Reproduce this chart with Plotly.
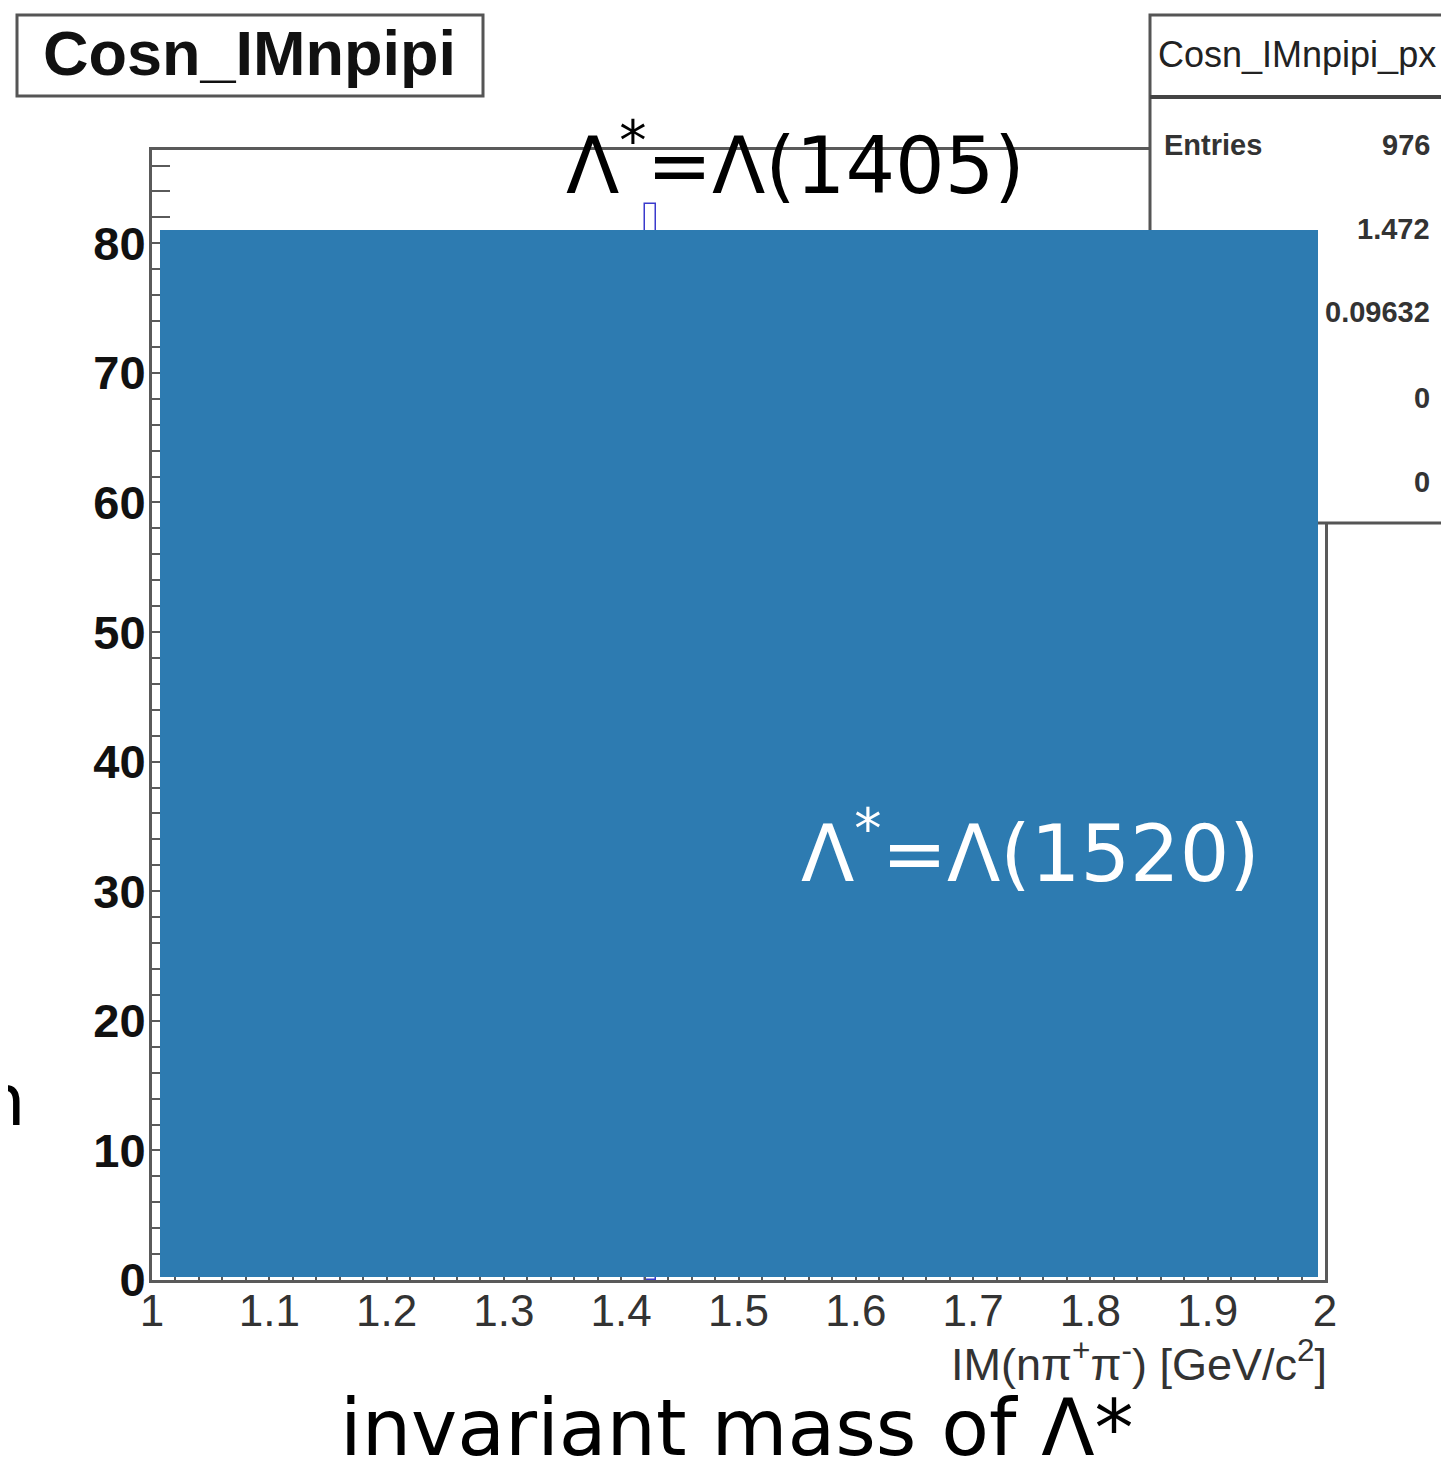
import plotly.graph_objects as go

# ---------------- data ----------------
bin_centers = [1.425]          # visible histogram bin (rest hidden behind overlay)
bin_counts = [83]
bin_width = 0.01
x_range = [1.0, 2.0]
y_range = [0, 87.2]
x_tick_vals = [1.0, 1.1, 1.2, 1.3, 1.4, 1.5, 1.6, 1.7, 1.8, 1.9, 2.0]
x_tick_text = ["1", "1.1", "1.2", "1.3", "1.4", "1.5", "1.6", "1.7", "1.8", "1.9", "2"]
y_tick_vals = [0, 10, 20, 30, 40, 50, 60, 70, 80]
y_tick_text = ["0", "10", "20", "30", "40", "50", "60", "70", "80"]
stats_title = "Cosn_IMnpipi_px"
stats_visible_labels = ["Entries"]
stats_values = ["976", "1.472", "0.09632", "0", "0"]
hist_title = "Cosn_IMnpipi"
x_title = "IM(nπ<sup>+</sup>π<sup>-</sup>) [GeV/c<sup>2</sup>]"

# ---------------- geometry (page pixels) ----------------
OFF = 8                         # page body margin
W, H = 1449 - OFF, 1473 - OFF
L, R, T, B = 152, 1325, 150, 1280
PW, PH = R - L, B - T


def px(x):
    return (x - L) / PW


def py(y):
    return (B - y) / PH


fig = go.Figure()
fig.add_trace(go.Bar(
    x=bin_centers, y=bin_counts, width=[bin_width] * len(bin_centers),
    marker=dict(color="rgba(0,0,0,0)", line=dict(color="#3a3acc", width=1.5)),
    showlegend=False, hoverinfo="skip",
))

axis_common = dict(
    showgrid=False, zeroline=False, showline=True, mirror=True,
    linecolor="#5a5a5a", linewidth=3, ticks="inside", tickcolor="#5a5a5a",
    tickwidth=2, ticklen=34,
)
fig.update_xaxes(
    range=x_range, tickvals=x_tick_vals, ticktext=x_tick_text,
    tickfont=dict(family="Liberation Sans, Arial", size=44, color="#333"),
    minor=dict(dtick=0.02, ticks="inside", ticklen=17, tickcolor="#5a5a5a", tickwidth=2),
    ticklabelstandoff=-10,
    **axis_common,
)
fig.update_yaxes(
    range=y_range, tickvals=y_tick_vals,
    ticktext=["<b>%s</b>" % t for t in y_tick_text],
    tickfont=dict(family="Liberation Sans, Arial", size=47, color="#111"),
    minor=dict(dtick=2, ticks="inside", ticklen=18, tickcolor="#5a5a5a", tickwidth=2),
    ticklabelstandoff=-6,
    **axis_common,
)

shapes = []
annotations = []

# title box
shapes.append(dict(type="rect", xref="paper", yref="paper",
                   x0=px(17), x1=px(483), y0=py(96), y1=py(15),
                   line=dict(color="#555", width=3), fillcolor="white", layer="above"))
annotations.append(dict(xref="paper", yref="paper", x=px(249), y=py(53),
                        text="<b>%s</b>" % hist_title, showarrow=False,
                        font=dict(family="Liberation Sans, Arial", size=63, color="#111"),
                        xanchor="center", yanchor="middle"))

# stats box
shapes.append(dict(type="rect", xref="paper", yref="paper",
                   x0=px(1150), x1=px(1445), y0=py(523), y1=py(15),
                   line=dict(color="#555", width=3), fillcolor="white", layer="above"))
shapes.append(dict(type="line", xref="paper", yref="paper",
                   x0=px(1150), x1=px(1445), y0=py(97), y1=py(97),
                   line=dict(color="#444", width=4), layer="above"))
annotations.append(dict(xref="paper", yref="paper", x=px(1297), y=py(55),
                        text=stats_title, showarrow=False,
                        font=dict(family="Liberation Sans, Arial", size=36, color="#222"),
                        xanchor="center", yanchor="middle"))
row_y = [145, 229, 312, 398, 482]
for lab, yy in zip(stats_visible_labels, row_y):
    annotations.append(dict(xref="paper", yref="paper", x=px(1162), y=py(yy),
                            text="<b>%s</b>" % lab, showarrow=False,
                            font=dict(family="Liberation Sans, Arial", size=29, color="#333"),
                            xanchor="left", yanchor="middle"))
for val, yy in zip(stats_values, row_y):
    annotations.append(dict(xref="paper", yref="paper", x=px(1432), y=py(yy),
                            text="<b>%s</b>" % val, showarrow=False,
                            font=dict(family="Liberation Sans, Arial", size=29, color="#333"),
                            xanchor="right", yanchor="middle"))

# blue overlay rectangle
shapes.append(dict(type="rect", xref="paper", yref="paper",
                   x0=px(160), x1=px(1318), y0=py(1277), y1=py(230),
                   line=dict(width=0), fillcolor="#2d7bb1", layer="above"))

# x axis title
annotations.append(dict(xref="paper", yref="paper", x=px(1329), y=py(1361),
                        text=x_title, showarrow=False,
                        font=dict(family="Liberation Sans, Arial", size=45, color="#333"),
                        xanchor="right", yanchor="middle"))

hand = "DejaVu Sans"
annotations.append(dict(xref="paper", yref="paper", x=px(795), y=py(160),
                        text="Λ<sup>*</sup>=Λ(1405)", showarrow=False,
                        font=dict(family=hand, size=78, color="black"),
                        xanchor="center", yanchor="middle"))
annotations.append(dict(xref="paper", yref="paper", x=px(1030), y=py(848),
                        text="Λ<sup>*</sup>=Λ(1520)", showarrow=False,
                        font=dict(family=hand, size=78, color="white"),
                        xanchor="center", yanchor="middle"))
annotations.append(dict(xref="paper", yref="paper", x=px(737), y=py(1475),
                        text="invariant mass of Λ*", showarrow=False,
                        font=dict(family=hand, size=78, color="black"),
                        xanchor="center", yanchor="bottom"))
annotations.append(dict(xref="paper", yref="paper", x=px(28), y=py(1100),
                        text="n", showarrow=False,
                        font=dict(family=hand, size=72, color="black"),
                        xanchor="right", yanchor="middle"))

fig.update_layout(
    width=W, height=H, autosize=False,
    margin=dict(l=L - OFF, r=W - (R - OFF), t=T - OFF, b=H - (B - OFF), pad=0),
    paper_bgcolor="white", plot_bgcolor="white",
    bargap=0, shapes=shapes, annotations=annotations, showlegend=False,
)
fig.write_html("out.html")
